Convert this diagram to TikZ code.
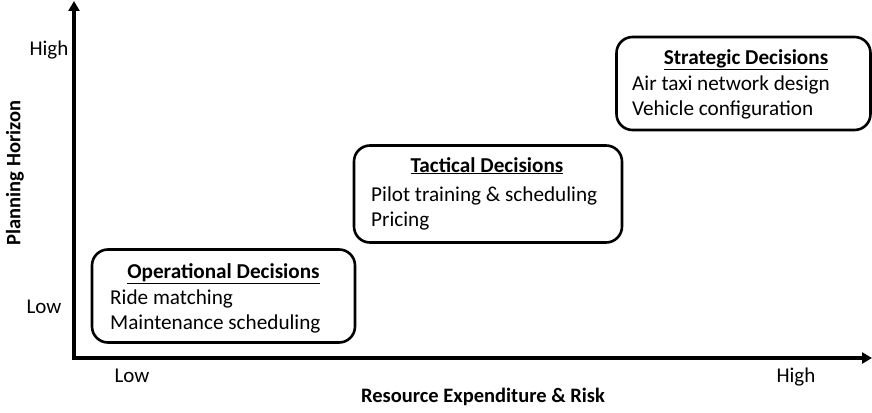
\documentclass[tikz,border=0pt]{standalone}
\usepackage{fontspec}
\setmainfont{Carlito}
\usetikzlibrary{arrows.meta}
\begin{document}
\begin{tikzpicture}[x=1pt,y=-1pt,
  decbox/.style={draw=black,line width=2.6pt,rounded corners=16pt,fill=white},
  title/.style={font=\fontsize{21.2}{25}\selectfont\bfseries,anchor=base,inner sep=0pt},
  item/.style={font=\fontsize{21.2}{25}\selectfont,anchor=base west,inner sep=0pt,align=left},
  lbl/.style={font=\fontsize{21}{25}\selectfont,anchor=base,inner sep=0pt},
  axlbl/.style={font=\fontsize{20.5}{24}\selectfont\bfseries,inner sep=0pt},
  axis/.style={line width=3.4pt,-{Triangle[length=10pt,width=11pt]}}]
\useasboundingbox (0,0) rectangle (872,412);
\coordinate (O) at (74,358);
\coordinate (ytip) at (74,1);
\coordinate (xtip) at (872,358);
\draw[axis] ([xshift=-1.7pt]O) -- (xtip);
\draw[axis] ([yshift=1.7pt]O) -- (ytip);
% boxes
\node[decbox,minimum width=263pt,minimum height=93pt] (op) at (223.5,296) {};
\node[decbox,minimum width=268pt,minimum height=97pt] (tac) at (488,194) {};
\node[decbox,minimum width=254pt,minimum height=93pt] (str) at (743.5,83.5) {};
\node[title] (opt) at (223.5,278) {\underline{Operational Decisions}};
\node[item] (op1) at (110,304) {Ride matching};
\node[item] (op2) at (110,329) {Maintenance scheduling};
\node[title] (tact) at (487,172) {\underline{Tactical Decisions}};
\node[item] (tac1) at (371,201) {Pilot training \& scheduling};
\node[item] (tac2) at (371,226) {Pricing};
\node[title] (strt) at (746,64) {\underline{Strategic Decisions}};
\node[item] (str1) at (632,90) {Air taxi network design};
\node[item] (str2) at (632,115) {Vehicle configuration};
% axis labels
\node[lbl] (yhigh) at (49,56) {High};
\node[lbl] (ylow) at (44,313) {Low};
\node[lbl] (xlow) at (132,382) {Low};
\node[lbl] (xhigh) at (796,382) {High};
\node[axlbl,rotate=90] (ylab) at (15,173) {Planning Horizon};
\node[axlbl] (xlab) at (483,397) {Resource Expenditure \& Risk};
\end{tikzpicture}
\end{document}
